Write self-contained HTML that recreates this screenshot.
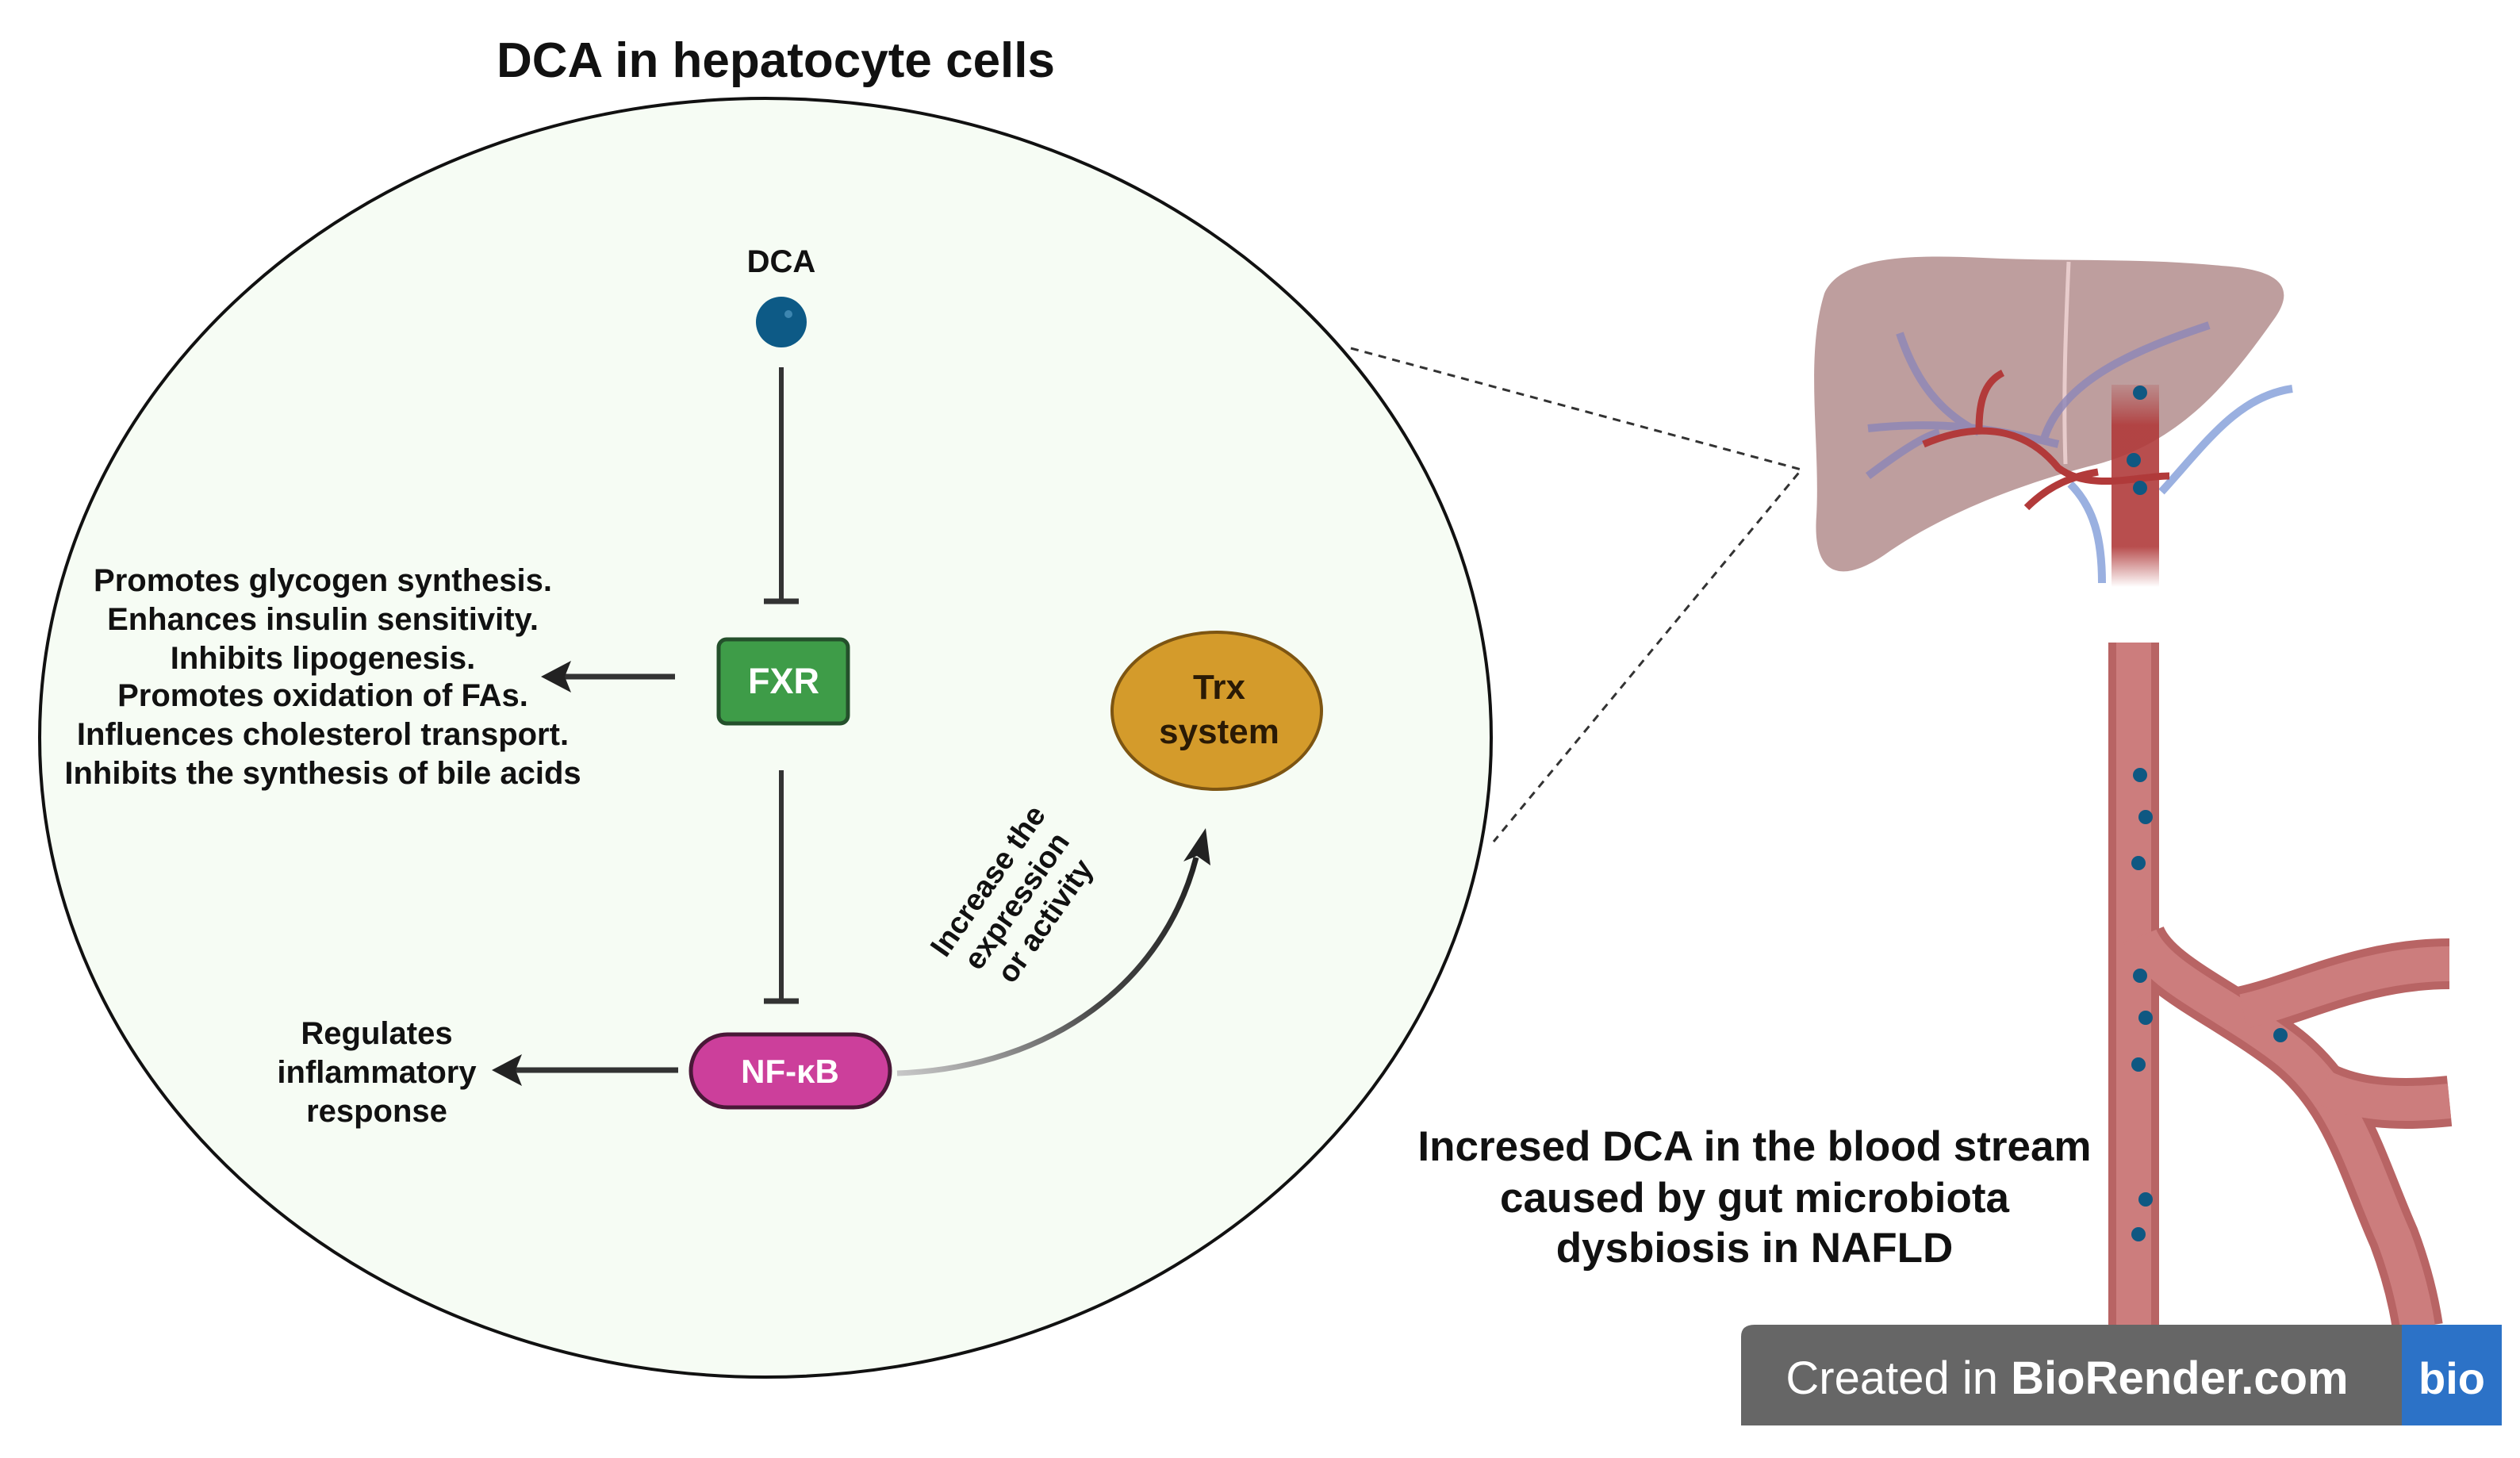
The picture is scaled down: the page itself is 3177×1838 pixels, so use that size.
<!DOCTYPE html>
<html><head><meta charset="utf-8"><style>
html,body{margin:0;padding:0;background:#fff}
svg{display:block}
text{font-family:"Liberation Sans",sans-serif;font-weight:bold}
</style></head><body>
<svg width="3177" height="1838" viewBox="0 0 3177 1838" xmlns="http://www.w3.org/2000/svg">
<defs>
<linearGradient id="cg" x1="0" y1="1" x2="1" y2="0">
<stop offset="0" stop-color="#c8c8c8"/><stop offset="0.5" stop-color="#444"/><stop offset="1" stop-color="#222"/>
</linearGradient>
<linearGradient id="vt" x1="0" y1="0" x2="0" y2="1">
<stop offset="0" stop-color="#b04545" stop-opacity="0.2"/><stop offset="0.2" stop-color="#b03a3a" stop-opacity="0.9"/><stop offset="0.8" stop-color="#b03a3a" stop-opacity="0.9"/><stop offset="1" stop-color="#b03a3a" stop-opacity="0"/>
</linearGradient>
</defs>
<text x="978" y="97" font-size="62" text-anchor="middle" fill="#111">DCA in hepatocyte cells</text>
<ellipse cx="965" cy="930" rx="915" ry="806" fill="#f6fcf4" stroke="#111" stroke-width="4"/>
<path d="M1703 439 L2271 592 L1883 1061" fill="none" stroke="#333" stroke-width="3" stroke-dasharray="10,8"/>
<text x="985" y="343" font-size="40" text-anchor="middle" fill="#111">DCA</text>
<circle cx="985" cy="406" r="32" fill="#0d5a86"/>
<circle cx="994" cy="396" r="5" fill="#3d86b0"/>
<line x1="985" y1="463" x2="985" y2="756" stroke="#333" stroke-width="6"/>
<line x1="963" y1="758" x2="1007" y2="758" stroke="#333" stroke-width="7"/>
<rect x="906" y="806" width="163" height="106" rx="10" fill="#3e9c48" stroke="#24502b" stroke-width="5"/>
<text x="988" y="874" font-size="45" text-anchor="middle" fill="#fff">FXR</text>
<line x1="851" y1="853" x2="710" y2="853" stroke="#333" stroke-width="7"/>
<polygon points="682,853 720,833 712,853 720,873" fill="#222"/>
<g font-size="40" text-anchor="middle" fill="#111">
<text x="407" y="745">Promotes glycogen synthesis.</text>
<text x="407" y="794">Enhances insulin sensitivity.</text>
<text x="407" y="843">Inhibits lipogenesis.</text>
<text x="407" y="890">Promotes oxidation of FAs.</text>
<text x="407" y="939">Influences cholesterol transport.</text>
<text x="407" y="988">Inhibits the synthesis of bile acids</text>
</g>
<line x1="985" y1="971" x2="985" y2="1260" stroke="#333" stroke-width="6"/>
<line x1="963" y1="1262" x2="1007" y2="1262" stroke="#333" stroke-width="7"/>
<rect x="871" y="1304" width="251" height="92" rx="46" fill="#cc3f9b" stroke="#4a1838" stroke-width="5"/>
<text x="996" y="1365" font-size="42" text-anchor="middle" fill="#fff">NF-κB</text>
<line x1="855" y1="1349" x2="648" y2="1349" stroke="#333" stroke-width="7"/>
<polygon points="620,1349 658,1329 650,1349 658,1369" fill="#222"/>
<g font-size="40" text-anchor="middle" fill="#111">
<text x="475" y="1316">Regulates</text>
<text x="475" y="1365">inflammatory</text>
<text x="475" y="1414">response</text>
</g>
<ellipse cx="1534" cy="896" rx="132" ry="99" fill="#d49b2b" stroke="#7d5512" stroke-width="4"/>
<text x="1537" y="881" font-size="44" text-anchor="middle" fill="#2a1a05">Trx</text>
<text x="1537" y="937" font-size="44" text-anchor="middle" fill="#2a1a05">system</text>
<path d="M1131 1353 C1328 1346 1468 1236 1508 1081" fill="none" stroke="url(#cg)" stroke-width="7"/>
<polygon points="1520,1044 1526,1091 1509,1079 1492,1086" fill="#222"/>
<g transform="translate(1292,1143) rotate(-55)" font-size="38" text-anchor="middle" fill="#111">
<text x="0" y="-44">Increase the</text>
<text x="0" y="0">expression</text>
<text x="0" y="44">or activity</text>
</g>
<path d="M2300 370 C2320 325 2400 320 2500 325 C2600 330 2700 325 2800 335 C2880 340 2895 365 2865 405 C2815 475 2755 555 2645 585 C2545 610 2445 650 2375 700 C2315 740 2285 720 2290 650 C2295 560 2275 450 2300 370 Z" fill="#b79393" opacity="0.9"/>
<path d="M2608 330 C2604 420 2601 500 2604 585" stroke="#e8cccc" stroke-width="5" fill="none"/>
<g fill="none" stroke="#8c86b8" stroke-width="10" opacity="0.8">
<path d="M2355 540 C2445 530 2515 540 2595 560"/>
<path d="M2395 420 C2415 480 2445 520 2495 545"/>
<path d="M2355 600 C2395 570 2425 550 2445 545"/>
<path d="M2575 560 C2595 480 2695 440 2785 410"/>
</g>
<g fill="none" stroke="#9ab0e0" stroke-width="10">
<path d="M2650 735 C2650 680 2640 640 2610 610"/>
<path d="M2725 620 C2780 560 2820 500 2890 490"/>
</g>
<g fill="none" stroke="#b23a3a" stroke-width="9">
<path d="M2425 560 C2495 530 2555 540 2595 590 C2635 620 2695 600 2735 600"/>
<path d="M2555 640 C2585 610 2615 600 2645 595"/>
<path d="M2495 540 C2495 500 2505 480 2525 470"/>
</g>
<rect x="2662" y="485" width="60" height="255" fill="url(#vt)"/>
<g fill="none" stroke="#b86464" stroke-width="64">
<path d="M2690 810 L2690 1673"/>
<path d="M2698 1180 C2718 1230 2798 1260 2878 1320 C2958 1380 2978 1470 3018 1560 C3033 1600 3043 1640 3048 1673"/>
<path d="M2828 1275 C2898 1260 2978 1215 3088 1215"/>
<path d="M2928 1370 C2968 1390 3018 1395 3088 1388"/>
</g>
<g fill="none" stroke="#cc7d7d" stroke-width="44">
<path d="M2690 810 L2690 1673"/>
<path d="M2698 1180 C2718 1230 2798 1260 2878 1320 C2958 1380 2978 1470 3018 1560 C3033 1600 3043 1640 3048 1673"/>
<path d="M2828 1275 C2898 1260 2978 1215 3088 1215"/>
<path d="M2928 1370 C2968 1390 3018 1395 3088 1388"/>
</g>
<g fill="#0f5882">
<circle cx="2698" cy="495" r="9"/><circle cx="2690" cy="580" r="9"/><circle cx="2698" cy="615" r="9"/>
<circle cx="2698" cy="977" r="9"/><circle cx="2705" cy="1030" r="9"/><circle cx="2696" cy="1088" r="9"/>
<circle cx="2698" cy="1230" r="9"/><circle cx="2705" cy="1283" r="9"/><circle cx="2696" cy="1342" r="9"/>
<circle cx="2875" cy="1305" r="9"/><circle cx="2705" cy="1512" r="9"/><circle cx="2696" cy="1556" r="9"/>
</g>
<g font-size="53" text-anchor="middle" fill="#111">
<text x="2212" y="1463">Incresed DCA in the blood stream</text>
<text x="2212" y="1528">caused by gut microbiota</text>
<text x="2212" y="1591">dysbiosis in NAFLD</text>
</g>
<path d="M2212 1670 L3028 1670 L3028 1797 L2195 1797 L2195 1685 Q2195 1670 2212 1670 Z" fill="#666"/>
<rect x="3028" y="1670" width="126" height="127" fill="#2c72c7"/>
<text x="2606" y="1757" font-size="58" text-anchor="middle" fill="#fff" style="font-weight:normal">Created in <tspan font-weight="bold">BioRender.com</tspan></text>
<text x="3091" y="1757" font-size="56" text-anchor="middle" fill="#fff">bio</text>
</svg>
</body></html>
